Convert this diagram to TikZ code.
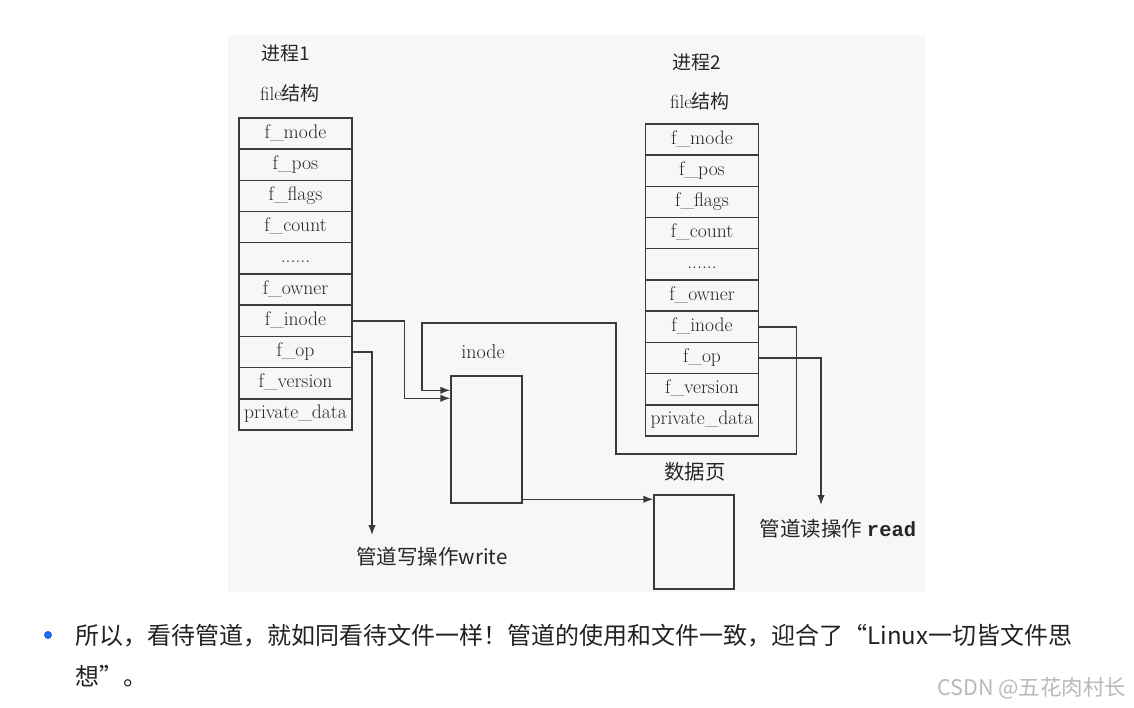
\documentclass[tikz,border=0pt]{standalone}
\usepackage{fontspec}
\newfontfamily\cjk{Noto Sans CJK SC}
\newfontfamily\mono{Liberation Mono}
\usetikzlibrary{arrows.meta}
\definecolor{linegray}{RGB}{58,58,58}
\definecolor{scanbg}{RGB}{246,248,246}
\definecolor{bulletblue}{RGB}{28,108,240}
\definecolor{textdark}{RGB}{34,34,34}
\begin{document}
\begin{tikzpicture}[x=1pt, y=-1pt, line width=1.4pt,
    field/.style = {draw=linegray, rectangle, minimum width=113pt, minimum height=31.2pt, inner sep=0pt,
        text height=13pt, text depth=4pt, text=black!85, font=\fontsize{19.6}{21}\selectfont},
    box/.style = {draw=linegray, rectangle, inner sep=0pt},
    heading/.style = {inner sep=0pt, text=black!85, font=\fontsize{19}{21}\selectfont},
    note/.style = {anchor=west, inner sep=0pt, text=textdark, font={\cjk\fontsize{24}{25}\selectfont}},
    arr/.style = {draw=linegray, -{Latex[length=10pt,width=7.5pt]}}]

		\useasboundingbox (0,0) rectangle (1134,708);
		\fill[white] (0,0) rectangle (1134,708);
		\fill[scanbg] (228,35) rectangle (925,592);

		\node[heading] (t1) at (286,53) {\cjk 进程1};
		\node[heading] (h1) at (290,93) {file\cjk 结构};
		\node[field] (l1) at (295.5,133.6) {f\_mode};
		\node[field] (l2) at (295.5,164.8) {f\_pos};
		\node[field] (l3) at (295.5,196.0) {f\_flags};
		\node[field] (l4) at (295.5,227.2) {f\_count};
		\node[field] (l5) at (295.5,258.4) {......};
		\node[field] (l6) at (295.5,289.6) {f\_owner};
		\node[field] (l7) at (295.5,320.8) {f\_inode};
		\node[field] (l8) at (295.5,352.0) {f\_op};
		\node[field] (l9) at (295.5,383.2) {f\_version};
		\node[field] (l10) at (295.5,414.4) {private\_data};

		\node[heading] (t2) at (697,62) {\cjk 进程2};
		\node[heading] (h2) at (700,101) {file\cjk 结构};
		\node[field] (r1) at (702,139.6) {f\_mode};
		\node[field] (r2) at (702,170.8) {f\_pos};
		\node[field] (r3) at (702,202.0) {f\_flags};
		\node[field] (r4) at (702,233.2) {f\_count};
		\node[field] (r5) at (702,264.4) {......};
		\node[field] (r6) at (702,295.6) {f\_owner};
		\node[field] (r7) at (702,326.8) {f\_inode};
		\node[field] (r8) at (702,358.0) {f\_op};
		\node[field] (r9) at (702,389.2) {f\_version};
		\node[field] (r10) at (702,420.4) {private\_data};

		\node[heading, font=\fontsize{20}{21}\selectfont] (il) at (483,352) {inode};
		\node[box, minimum width=71pt, minimum height=127pt] (inode) at (486.5,439.5) {};
		\node[heading, font=\fontsize{20.4}{21}\selectfont] (pl) at (695,472) {\cjk 数据页};
		\node[box, minimum width=80pt, minimum height=94pt] (page) at (694,542) {};

		\node[heading, font=\fontsize{20.5}{21}\selectfont] (wl) at (432,557) {\cjk 管道写操作write};
		\node[heading, font=\fontsize{20.5}{21}\selectfont] (rl) at (838,529) {\cjk 管道读操作 {\mono\bfseries read}};
		\coordinate (wend) at (372,535);
		\coordinate (rend) at (821,505);
		\coordinate (pgin) at ([yshift=-5pt]page.north west);

		\draw[arr] (l7.east) -- ++(52,0) |- ([yshift=-23pt]inode.north west);
		\draw[arr] (r7.east) -- ++(37,0) |- (616,454) |- (422,323) |- ([yshift=-15pt]inode.north west);
		\draw[arr] (l8.east) -| (wend);
		\draw[arr] (r8.east) -| (rend);
		\draw[arr] (inode.south east |- pgin) -- (pgin);

		\node[circle, fill=bulletblue, inner sep=0pt, minimum size=8pt] (dot) at (48,635) {};
		\node[note] (n1) at (75,636) {所以，看待管道，就如同看待文件一样！管道的使用和文件一致，迎合了“Linux一切皆文件思};
		\node[note] (n2) at (75,676) {想”。};
		\node[anchor=east, inner sep=0pt, text=gray!55, font={\cjk\fontsize{21.5}{23}\selectfont}] (mark) at (1127,688) {CSDN @五花肉村长};
	\end{tikzpicture}
\end{document}
